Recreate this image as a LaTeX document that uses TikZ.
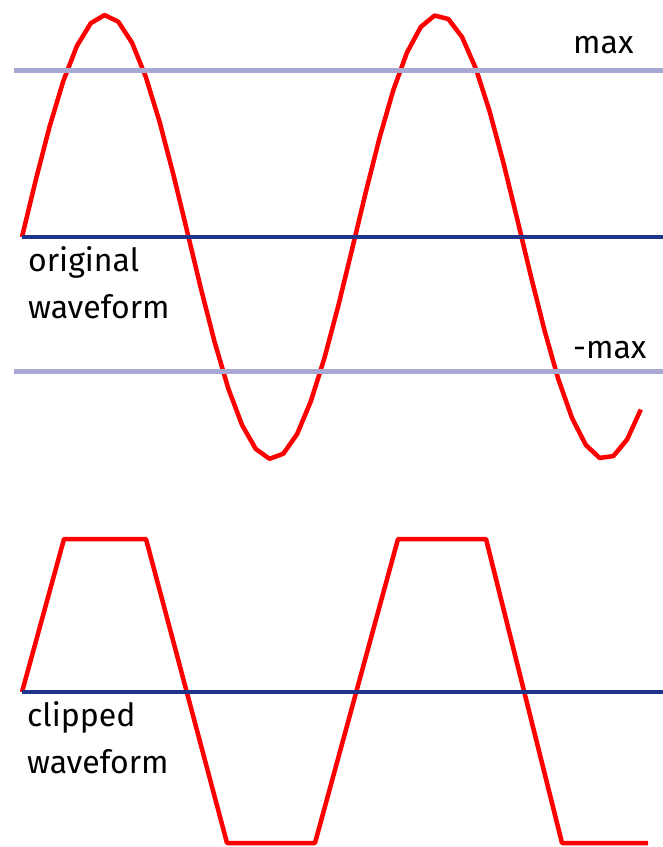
\documentclass[tikz,border=0pt]{standalone}
\usepackage{fontspec}
\setmainfont{Fira Sans}
\usepackage{xcolor}
\definecolor{wavered}{RGB}{255,0,0}
\definecolor{levelgray}{RGB}{168,168,212}
\definecolor{axisblue}{RGB}{32,52,140}

\tikzset{
  wave/.style={wavered, line width=4.5pt, line join=round},
  level/.style={levelgray, line width=5pt},
  axis/.style={axisblue, line width=4pt},
  caption/.style={anchor=base west, inner sep=0pt, align=left,
    font=\fontsize{32}{47}\selectfont}
}

\begin{document}
\begin{tikzpicture}[x=1pt, y=-1pt]
    \useasboundingbox (0,0) rectangle (663,847);
    \def\period{333}
    \def\amp{222}

    % original waveform
    \draw[wave] plot[domain=0:669, samples=46] ({22+\x/360*\period}, {237-\amp*sin(\x)});
    \draw[level] (14,70) -- (663,70);
    \draw[axis] (22,237) -- (663,237);
    \draw[level] (14,371) -- (663,371);

    \node[caption] (maxlabel) at (573,53) {max};
    \node[caption] (minlabel) at (573,358) {-max};
    \node[caption] (origlabel) at (28,318) {original\\waveform};

    % clipped waveform
    \draw[wave] (22,692) -- (64,539) -- (146,539) -- (227,843) -- (315,843)
      -- (398,539) -- (486,539) -- (562,843) -- (648,843);
    \draw[axis] (22,692) -- (663,692);

    \node[caption] (cliplabel) at (27,773) {clipped\\waveform};
\end{tikzpicture}
\end{document}
